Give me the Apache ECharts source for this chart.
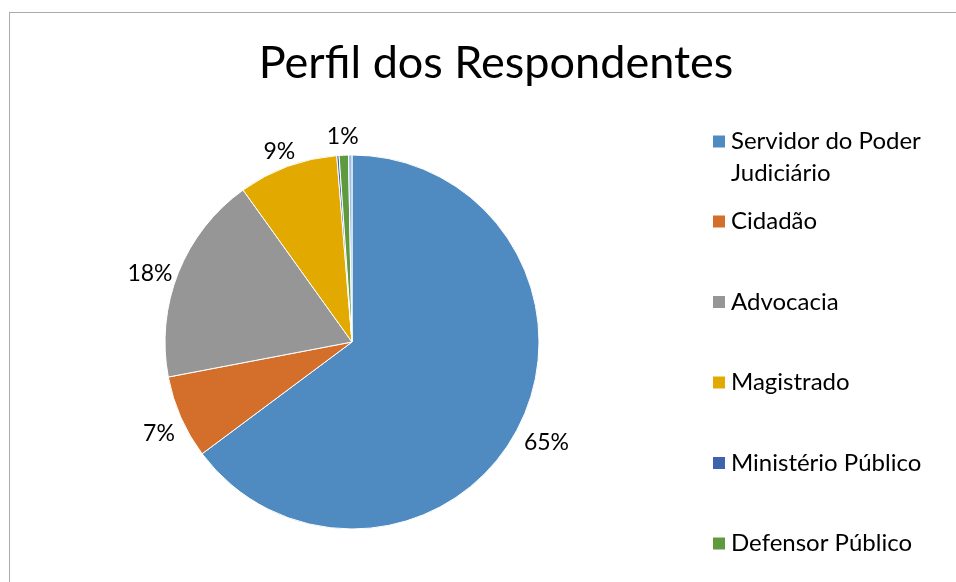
<!DOCTYPE html>
<html>
<head>
<meta charset="utf-8">
<script src="https://cdn.jsdelivr.net/npm/echarts@6/dist/echarts.min.js"></script>
<style>
    html, body { margin: 0; padding: 0; background: #fff; }
    #frame {
        position: absolute; left: 9px; top: 12px; width: 1000px; height: 1000px;
        border-left: 1px solid #ababab; border-top: 1px solid #ababab;
    }
    #main { position: absolute; left: 0; top: 0; width: 956px; height: 582px; }
</style>
</head>
<body>
<div id="frame"></div>
<div id="main"></div>
<script>
// categorias e percentuais
const categories = [
    'Servidor do Poder Judiciário',
    'Cidadão',
    'Advocacia',
    'Magistrado',
    'Ministério Público',
    'Defensor Público',
    'Outros'
];
const values = [64.8, 7.2, 18.1, 8.6, 0.2, 0.8, 0.3];
const colors = ['#4f8bc0', '#d46f2b', '#969696', '#e2aa00', '#3e63ad', '#5f9b3e', '#9dbde1'];

const CX = 352, CY = 342, R = 187;
const total = values.reduce((a, b) => a + b, 0);

let myChart = echarts.init(document.getElementById('main'));

function labelPos (params) {
    // rótulo encostado na borda, na direção do meio da fatia
    let before = 0;
    for (let i = 0; i < params.dataIndex; i++) before += values[i];
    const mid = (before + values[params.dataIndex] / 2) / total * Math.PI * 2;
    const dx = Math.sin(mid), dy = -Math.cos(mid);
    const w = params.labelRect.width, h = params.labelRect.height;
    const g = 8;
    return {
        x: CX + (R + g) * dx + w / 2 * dx,
        y: CY + (R + g) * dy + h / 2 * dy + h * 0.4 * Math.abs(dx),
        align: 'center',
        verticalAlign: 'middle'
    };
}

const pieData = categories.map((name, i) => ({
    name: name,
    value: values[i],
    label: { show: Math.round(values[i] / total * 100) >= 1 }
}));

const legendText = { fontFamily: 'Lato', fontSize: 24, lineHeight: 32, color: '#000' };

var option = {
    color: colors,
    title: {
        text: 'Perfil dos Respondentes',
        left: 491,
        top: 36,
        textAlign: 'center',
        textStyle: {
            fontFamily: 'Lato',
            fontSize: 45,
            fontWeight: 'normal',
            color: '#000'
        }
    },
    legend: [
        {
            data: [categories[0]],
            orient: 'vertical',
            left: 711,
            top: 93.5,
            padding: 0,
            icon: 'rect',
            itemWidth: 14,
            itemHeight: 14,
            selectedMode: false,
            formatter: () => ' \nServidor do Poder\nJudiciário',
            textStyle: legendText
        },
        {
            data: categories.slice(1, 6),
            orient: 'vertical',
            left: 711,
            top: 205.5,
            padding: 0,
            icon: 'rect',
            itemWidth: 14,
            itemHeight: 14,
            itemGap: 48.5,
            selectedMode: false,
            textStyle: legendText
        }
    ],
    series: [
        {
            type: 'pie',
            center: [CX, CY],
            radius: R,
            startAngle: 90,
            clockwise: true,
            avoidLabelOverlap: false,
            animation: false,
            itemStyle: { borderColor: '#fff', borderWidth: 1 },
            label: {
                position: 'outside',
                fontFamily: 'Lato',
                fontSize: 23,
                color: '#000',
                formatter: (p) => Math.round(p.value / total * 100) + '%'
            },
            labelLine: { show: false },
            labelLayout: labelPos,
            emphasis: { disabled: true },
            data: pieData
        }
    ]
};
myChart.setOption(option);
window.onresize = myChart.resize;
</script>
</body>
</html>
